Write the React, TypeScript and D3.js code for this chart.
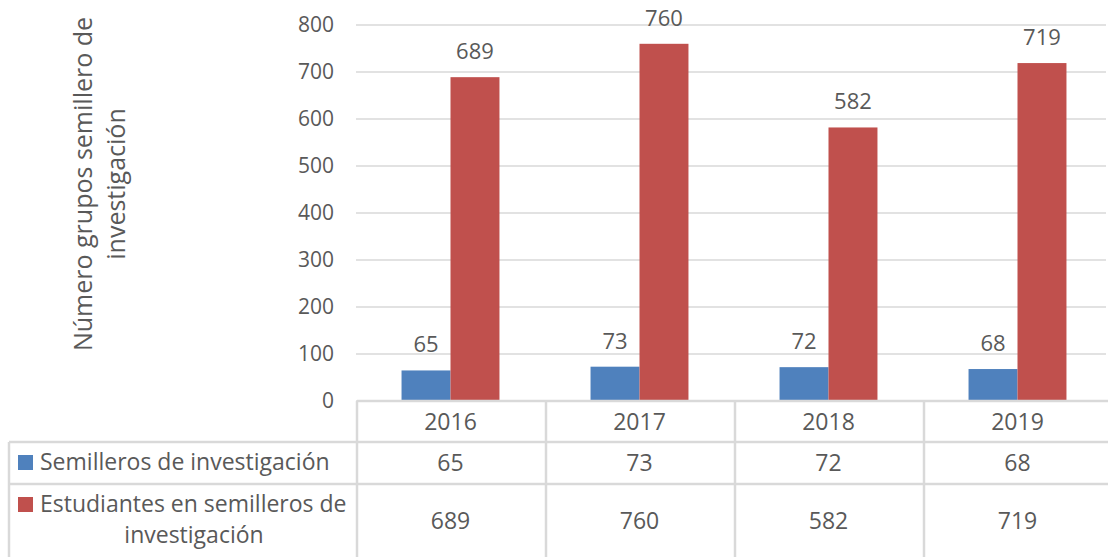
import React, { useEffect, useRef } from "react";
import * as d3 from "d3";

const years = ["2016", "2017", "2018", "2019"];
const semilleros = [65, 73, 72, 68];
const estudiantes = [689, 760, 582, 719];
const yTicks = [0, 100, 200, 300, 400, 500, 600, 700, 800];
const seriesNames = ["Semilleros de investigación", "Estudiantes en semilleros de investigación"];
const seriesColors = ["#4f81bd", "#c0504d"];

const W = 1108;
const H = 557;
const FONT = "'Open Sans', sans-serif";
const TXT = "#595959";
const GRID = "#d9d9d9";

function App() {
  const ref = useRef<SVGSVGElement>(null);

  useEffect(() => {
    const svg = d3.select(ref.current);
    svg.selectAll("*").remove();

    const plotLeft = 356;
    const plotRight = 1112;
    const top = 25;
    const base = 401;

    const x = d3.scaleBand().domain(years).range([plotLeft, plotRight]);
    const y = d3.scaleLinear().domain([0, 800]).range([base, top]);
    const inner = d3
      .scaleBand()
      .domain(["s", "e"])
      .range([0, x.bandwidth()])
      .paddingInner(0)
      .paddingOuter(0.93);

    const g = svg.append("g").attr("font-family", FONT).attr("fill", TXT);

    // gridlines
    g.selectAll("line.grid")
      .data(yTicks)
      .join("line")
      .attr("x1", plotLeft)
      .attr("x2", 1106)
      .attr("y1", (d) => y(d))
      .attr("y2", (d) => y(d))
      .attr("stroke", GRID)
      .attr("stroke-width", 1.5);

    // y tick labels
    g.selectAll("text.tick")
      .data(yTicks)
      .join("text")
      .attr("x", 334)
      .attr("y", (d) => y(d))
      .attr("dy", "0.35em")
      .attr("text-anchor", "end")
      .attr("font-size", 21)
      .text((d) => d);

    // y-axis title
    const title = g
      .append("text")
      .attr("transform", "translate(92,184) rotate(-90)")
      .attr("text-anchor", "middle")
      .attr("font-size", 25);
    title.append("tspan").attr("x", 0).attr("y", 0).text("Número grupos semillero de");
    title.append("tspan").attr("x", 0).attr("y", 33).text("investigación");

    const series = [semilleros, estudiantes];
    const keys = ["s", "e"];
    series.forEach((vals, si) => {
      g.append("g")
        .selectAll("rect")
        .data(vals)
        .join("rect")
        .attr("x", (d, i) => (x(years[i]) as number) + (inner(keys[si]) as number))
        .attr("width", inner.bandwidth())
        .attr("y", (d) => y(d))
        .attr("height", (d) => base - y(d))
        .attr("fill", seriesColors[si]);
      g.append("g")
        .selectAll("text")
        .data(vals)
        .join("text")
        .attr("x", (d, i) => (x(years[i]) as number) + (inner(keys[si]) as number) + inner.bandwidth() / 2)
        .attr("y", (d) => y(d) - 18)
        .attr("text-anchor", "middle")
        .attr("font-size", 22)
        .text((d) => d);
    });

    // data table
    const tableLeft = 9;
    const rows = [base, 442, 484, H];
    const lines = g.append("g").attr("stroke", GRID).attr("stroke-width", 2.5);
    lines.append("line").attr("x1", plotLeft + 1).attr("x2", W).attr("y1", rows[0]).attr("y2", rows[0]);
    [rows[1], rows[2]].forEach((ry) => {
      lines.append("line").attr("x1", tableLeft).attr("x2", W).attr("y1", ry).attr("y2", ry);
    });
    lines.append("line").attr("x1", tableLeft).attr("x2", tableLeft).attr("y1", rows[1]).attr("y2", H);
    years.forEach((yr) => {
      const xx = (x(yr) as number) + 1;
      lines.append("line").attr("x1", xx).attr("x2", xx).attr("y1", base).attr("y2", H);
    });

    // header row
    g.append("g")
      .selectAll("text")
      .data(years)
      .join("text")
      .attr("x", (d) => (x(d) as number) + x.bandwidth() / 2)
      .attr("y", (rows[0] + rows[1]) / 2)
      .attr("dy", "0.35em")
      .attr("text-anchor", "middle")
      .attr("font-size", 23)
      .text((d) => d);

    series.forEach((vals, si) => {
      const cy = (rows[si + 1] + rows[si + 2]) / 2;
      g.append("g")
        .selectAll("text")
        .data(vals)
        .join("text")
        .attr("x", (d, i) => (x(years[i]) as number) + x.bandwidth() / 2)
        .attr("y", cy)
        .attr("dy", "0.35em")
        .attr("text-anchor", "middle")
        .attr("font-size", 23)
        .text((d) => d);
    });

    // legend keys
    g.append("rect").attr("x", 18).attr("y", 455).attr("width", 15).attr("height", 15).attr("fill", seriesColors[0]);
    g.append("text")
      .attr("x", 40)
      .attr("y", 462)
      .attr("dy", "0.35em")
      .attr("font-size", 23)
      .text(seriesNames[0]);

    g.append("rect").attr("x", 18).attr("y", 497).attr("width", 15).attr("height", 15).attr("fill", seriesColors[1]);
    g.append("text")
      .attr("x", 40)
      .attr("y", 504)
      .attr("dy", "0.35em")
      .attr("font-size", 23)
      .text("Estudiantes en semilleros de");
    g.append("text")
      .attr("x", 194)
      .attr("y", 535)
      .attr("dy", "0.35em")
      .attr("text-anchor", "middle")
      .attr("font-size", 23)
      .text("investigación");
  }, []);

  return (
    <div style={{ position: "absolute", left: 0, top: 0 }}>
      <svg ref={ref} width={W} height={H} style={{ display: "block", background: "#fff" }} />
    </div>
  );
}

export default App;
